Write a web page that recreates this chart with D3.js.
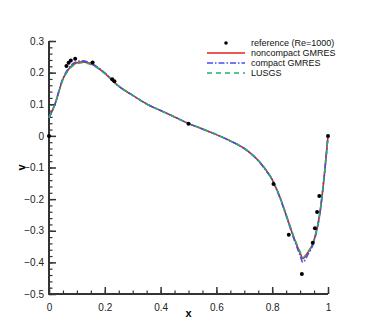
<!DOCTYPE html>
<html>
<head>
<meta charset="utf-8">
<script src="https://cdn.jsdelivr.net/npm/d3@7"></script>
<style>
  body { margin: 0; background: #fff; }
  svg { font-family: "Liberation Sans", Arial, sans-serif; }
  .tick text { font-size: 10px; fill: #222; }
  .legend text { font-size: 9px; fill: #111; }
</style>
</head>
<body>
<script>
// reference points (Re=1000)
const refX = [0, 0.0625, 0.0703, 0.0781, 0.0938, 0.1563, 0.2266, 0.2344, 0.5, 0.8047, 0.8594, 0.9063, 0.9453, 0.9531, 0.9609, 0.9688, 1.0]
const refV = [0, 0.221, 0.231, 0.238, 0.244, 0.232, 0.179, 0.173, 0.038, -0.152, -0.313, -0.437, -0.338, -0.292, -0.241, -0.19, 0]

// solver curves
const gridX = [0, 0.02, 0.05, 0.075, 0.1, 0.12, 0.15, 0.2, 0.25, 0.3, 0.35, 0.4, 0.45, 0.5, 0.55, 0.6, 0.65, 0.7, 0.725, 0.75, 0.775, 0.8, 0.825, 0.85, 0.875, 0.9, 0.91, 0.925, 0.95, 0.97, 0.985, 1.0]
const noncompactV = [0.058, 0.097, 0.180, 0.216, 0.231, 0.234, 0.228, 0.198, 0.157, 0.128, 0.101, 0.080, 0.060, 0.039, 0.022, 0.004, -0.016, -0.040, -0.057, -0.078, -0.105, -0.138, -0.188, -0.250, -0.315, -0.370, -0.388, -0.372, -0.330, -0.250, -0.140, 0.0]
const compactV    = [0.058, 0.097, 0.182, 0.219, 0.235, 0.237, 0.230, 0.199, 0.157, 0.128, 0.101, 0.080, 0.060, 0.039, 0.022, 0.004, -0.016, -0.040, -0.057, -0.079, -0.106, -0.139, -0.190, -0.252, -0.319, -0.378, -0.400, -0.380, -0.333, -0.251, -0.140, 0.0]
const lusgsV      = [0.058, 0.097, 0.178, 0.213, 0.228, 0.231, 0.226, 0.197, 0.157, 0.128, 0.101, 0.080, 0.060, 0.039, 0.022, 0.004, -0.016, -0.040, -0.057, -0.077, -0.104, -0.137, -0.187, -0.249, -0.313, -0.367, -0.385, -0.370, -0.329, -0.249, -0.140, 0.0]

const xTicks = [0, 0.2, 0.4, 0.6, 0.8, 1]
const yTicks = [0.3, 0.2, 0.1, 0, -0.1, -0.2, -0.3, -0.4, -0.5]

const series = [
  {name: 'noncompact GMRES', values: noncompactV, color: '#e0201b', dash: null},
  {name: 'compact GMRES', values: compactV, color: '#4a4af0', dash: '6,2,1.5,2'},
  {name: 'LUSGS', values: lusgsV, color: '#1bb36a', dash: '5,4'}
]

const W = 374, H = 332
const plotL = 49, plotR = 328, plotT = 41, plotB = 294

const x = d3.scaleLinear().domain([0, 1]).range([plotL, plotR])
const y = d3.scaleLinear().domain([-0.5, 0.3]).range([plotB, plotT])

const svg = d3.select('body').append('svg')
    .attr('width', W)
    .attr('height', H)

// minor ticks
svg.append('g')
    .attr('transform', `translate(0,${plotB})`)
    .call(d3.axisBottom(x).tickValues(d3.range(0, 1.0001, 0.05)).tickSize(-3.5).tickFormat(''))
    .call(g => g.select('.domain').remove())
    .selectAll('line').attr('stroke', '#333').attr('stroke-width', 1.2)

svg.append('g')
    .attr('transform', `translate(${plotL},0)`)
    .call(d3.axisLeft(y).tickValues(d3.range(-0.5, 0.3001, 0.02)).tickSize(-3.5).tickFormat(''))
    .call(g => g.select('.domain').remove())
    .selectAll('line').attr('stroke', '#333').attr('stroke-width', 1.2)

// major ticks + labels
const xAxis = svg.append('g')
    .attr('transform', `translate(0,${plotB})`)
    .call(d3.axisBottom(x).tickValues(xTicks).tickSize(-7).tickPadding(10).tickFormat(d3.format('')))
xAxis.select('.domain').remove()
xAxis.selectAll('line').attr('stroke', '#333').attr('stroke-width', 1.5)

const yAxis = svg.append('g')
    .attr('transform', `translate(${plotL},0)`)
    .call(d3.axisLeft(y).tickValues(yTicks).tickSize(-7).tickPadding(5).tickFormat(d3.format('')))
yAxis.select('.domain').remove()
yAxis.selectAll('line').attr('stroke', '#333').attr('stroke-width', 1.5)

// axis lines
svg.append('path')
    .attr('d', `M${plotL},${plotT}V${plotB}H${plotR}`)
    .attr('fill', 'none')
    .attr('stroke', '#333')
    .attr('stroke-width', 2)

// axis titles
svg.append('text')
    .attr('x', x(0.5))
    .attr('y', plotB + 23)
    .attr('text-anchor', 'middle')
    .style('font-size', '11px')
    .style('font-weight', 'bold')
    .text('x')

svg.append('text')
    .attr('transform', `translate(25,${(plotT + plotB) / 2}) rotate(-90)`)
    .attr('text-anchor', 'middle')
    .style('font-size', '11px')
    .style('font-weight', 'bold')
    .text('v')

// curves
const line = d3.line()
    .x((d, i) => x(gridX[i]))
    .y(d => y(d))
    .curve(d3.curveMonotoneX)

series.forEach(s => {
  svg.append('path')
      .datum(s.values)
      .attr('d', line)
      .attr('fill', 'none')
      .attr('stroke', s.color)
      .attr('stroke-width', 1.6)
      .attr('stroke-dasharray', s.dash)
})

// reference dots
svg.append('g')
  .selectAll('circle')
  .data(refX)
  .join('circle')
    .attr('cx', d => x(d))
    .attr('cy', (d, i) => y(refV[i]))
    .attr('r', 2)
    .attr('fill', '#000')

// legend
const legend = svg.append('g').attr('class', 'legend')
const lx0 = 207, lx1 = 245, tx = 251, ly0 = 43, dy = 10

legend.append('circle')
    .attr('cx', (lx0 + lx1) / 2)
    .attr('cy', ly0)
    .attr('r', 1.8)
    .attr('fill', '#000')
legend.append('text')
    .attr('x', tx).attr('y', ly0 + 3)
    .text('reference (Re=1000)')

series.forEach((s, i) => {
  const yy = ly0 + dy * (i + 1)
  legend.append('line')
      .attr('x1', lx0).attr('x2', lx1)
      .attr('y1', yy).attr('y2', yy)
      .attr('stroke', s.color)
      .attr('stroke-width', 1.6)
      .attr('stroke-dasharray', s.dash)
  legend.append('text')
      .attr('x', tx).attr('y', yy + 3)
      .text(s.name)
})
</script>
</body>
</html>
